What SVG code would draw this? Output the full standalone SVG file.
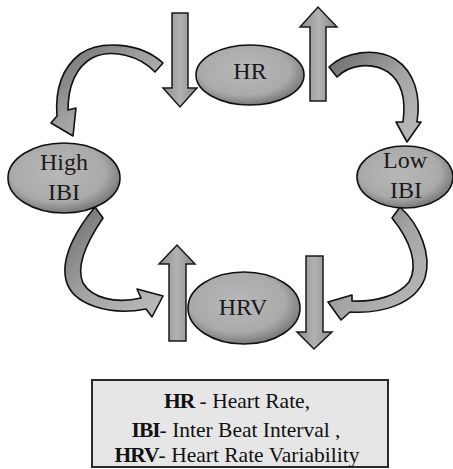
<svg xmlns="http://www.w3.org/2000/svg" width="453" height="469" viewBox="0 0 453 469">
<defs>
<radialGradient id="gEll" cx="0.45" cy="0.42" r="0.6">
<stop offset="0" stop-color="#b8b8b8"/>
<stop offset="0.7" stop-color="#aaaaaa"/>
<stop offset="1" stop-color="#747474"/>
</radialGradient>
<linearGradient id="gBar" x1="0" y1="0" x2="1" y2="0">
<stop offset="0" stop-color="#8c8c8c"/>
<stop offset="0.5" stop-color="#b2b2b2"/>
<stop offset="1" stop-color="#888888"/>
</linearGradient>
<linearGradient id="gCurve" x1="0" y1="0" x2="1" y2="1">
<stop offset="0" stop-color="#6a6a6a"/>
<stop offset="0.5" stop-color="#a4a4a4"/>
<stop offset="1" stop-color="#bcbcbc"/>
</linearGradient>
</defs>
<style>
.ell{fill:url(#gEll);stroke:#111;stroke-width:1.6}
.bar{fill:url(#gBar);stroke:#1a1a1a;stroke-width:1.5;stroke-linejoin:miter}
.cur{fill:url(#gCurve);stroke:#111;stroke-width:1.6;stroke-linejoin:round}
.nt{font-family:"Liberation Serif","Times New Roman",serif;font-size:24px;fill:#1a1a1a;text-anchor:middle}
.lg{font-family:"Liberation Serif","Times New Roman",serif;font-size:21.5px;fill:#111;text-anchor:middle}
.b{font-weight:bold;letter-spacing:-1px}
</style>
<rect width="453" height="469" fill="#ffffff"/>

<g id="connectors">
<path class="cur" d="M155,72 C140,56 112,48 92,58 C76,67 68,86 68,110 L76,108 L73,136 L51,123 L57,116 C55,90 62,68 80,54 C100,40 140,42 163,63 Z"/>
<path class="cur" d="M329,67 C345,52 375,47 395,59 C415,72 421,96 417,122 L421,122 L407,142 L396,122 L403,122 C406,100 402,82 388,72 C372,62 350,64 337,77 Z"/>
<path class="cur" d="M95,207 C80,225 60,255 66,280 C72,305 110,316 146,309 L152,317 L163,296 L137,289 L141,298 C115,304 92,298 83,283 C75,265 88,240 103,218 Z"/>
<path class="cur" d="M400,207 C420,225 432,255 425,278 C415,305 380,314 350,312 L341,320 L328,302 L352,295 L352,301 C375,302 398,296 409,282 C419,265 410,240 392,218 Z"/>
</g>

<g id="indicators">
<path class="bar" d="M172,13 L188,13 L188,88 L197,88 L180,107 L163,88 L172,88 Z"/>
<path class="bar" d="M310,101 L326,101 L326,27 L337,27 L318,7 L300,27 L310,27 Z"/>
<path class="bar" d="M169,341 L186,341 L186,264 L195,264 L177,245 L159,264 L169,264 Z"/>
<path class="bar" d="M306,256 L323,256 L323,332 L332,332 L314,349 L297,332 L306,332 Z"/>
</g>

<g id="node-hr">
<ellipse class="ell" cx="250" cy="75" rx="54" ry="30"/>
<text class="nt" x="250" y="79">HR</text>
</g>
<g id="node-high-ibi">
<ellipse class="ell" cx="64" cy="178" rx="56" ry="35"/>
<text class="nt" x="64" y="170">High</text>
<text class="nt" x="64" y="200">IBI</text>
</g>
<g id="node-low-ibi">
<ellipse class="ell" cx="405" cy="177" rx="48" ry="31"/>
<text class="nt" x="405" y="168">Low</text>
<text class="nt" x="406" y="198">IBI</text>
</g>
<g id="node-hrv">
<ellipse class="ell" cx="244" cy="308" rx="56" ry="36"/>
<text class="nt" x="243" y="315">HRV</text>
</g>

<g id="legend">
<rect x="92" y="380" width="296" height="87" fill="#e6e6e6" stroke="#2a2a2a" stroke-width="2"/>
<text class="lg" x="237" y="408"><tspan class="b">HR</tspan> - Heart Rate,</text>
<text class="lg" x="236" y="437"><tspan class="b">IBI</tspan>- Inter Beat Interval ,</text>
<text class="lg" x="237" y="462"><tspan class="b">HRV</tspan>- Heart Rate Variability</text>
</g>
</svg>
